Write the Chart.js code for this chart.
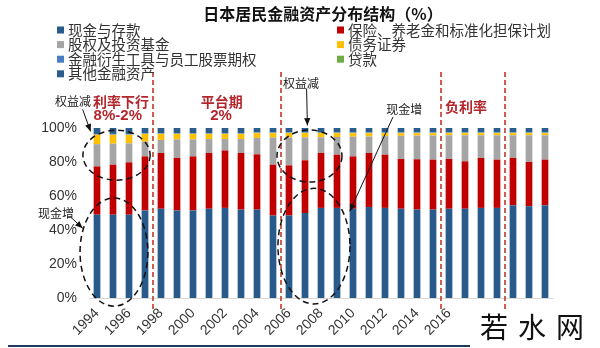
<!DOCTYPE html>
<html>
<head>
<meta charset="utf-8">
<script src="https://cdn.jsdelivr.net/npm/chart.js@4.4.1/dist/chart.umd.min.js"></script>
<style>
  html, body { margin: 0; padding: 0; background: #fff; }
  #wrap { width: 600px; height: 348px; position: relative; }
</style>
</head>
<body>
<div id="wrap"><canvas id="c"></canvas></div>
<script>
// 日本居民金融资产分布结构（%）
const years = ['1994', '1995', '1996', '1997', '1998', '1999', '2000', '2001', '2002', '2003',
  '2004', '2005', '2006', '2007', '2008', '2009', '2010', '2011', '2012', '2013',
  '2014', '2015', '2016', '2017', '2018', '2019', '2020', '2021', '2022'];
const xTickLabels = ['1994', '', '1996', '', '1998', '', '2000', '', '2002', '', '2004', '', '2006', '',
  '2008', '', '2010', '', '2012', '', '2014', '', '2016', '', '', '', '', '', ''];
const yTicks = [0, 20, 40, 60, 80, 100];

const cash = [49, 49, 49, 51.5, 52.5, 51.5, 51.5, 52.5, 53, 52, 52, 48.5, 48.5, 50, 53, 53, 52.5,
  53.5, 53, 52.5, 52, 52, 52.5, 52.5, 53, 53, 54.5, 54, 54.5];
const insurance = [28.4, 29.4, 30.8, 31.8, 32.8, 30.9, 31.8, 32.8, 33.8, 33.3, 32.5, 29.9, 29.5, 31,
  32.3, 31.3, 30.8, 31.8, 31.3, 29.3, 29.6, 29.4, 29.3, 27.9, 29.4, 28.4, 27.9, 26, 26.9];
const equity = [13.1, 12.4, 11.2, 8.7, 7.7, 10.9, 10, 8.2, 6.7, 8.2, 9.7, 16, 16.4, 13.5, 9.2, 10.4,
  11.6, 9.7, 10.9, 13.6, 13.9, 14.2, 13.9, 15.3, 13.3, 14.3, 13.3, 15.7, 14.3];
const debt = [5.5, 5.2, 5, 4.5, 3.5, 3.2, 3.2, 3, 3, 3, 2.8, 2.6, 2.6, 2.5, 2.5, 2.3, 2.1, 2, 1.8,
  1.6, 1.5, 1.4, 1.3, 1.3, 1.3, 1.3, 1.3, 1.3, 1.3];
const derivatives = [0.3, 0.3, 0.3, 0.3, 0.3, 0.3, 0.3, 0.3, 0.3, 0.3, 0.3, 0.3, 0.3, 0.3, 0.3, 0.3,
  0.3, 0.3, 0.3, 0.3, 0.3, 0.3, 0.3, 0.3, 0.3, 0.3, 0.3, 0.3, 0.3];
const loans = [0.2, 0.2, 0.2, 0.2, 0.2, 0.2, 0.2, 0.2, 0.2, 0.2, 0.2, 0.2, 0.2, 0.2, 0.2, 0.2, 0.2,
  0.2, 0.2, 0.2, 0.2, 0.2, 0.2, 0.2, 0.2, 0.2, 0.2, 0.2, 0.2];
const other = [3.5, 3.5, 3.5, 3, 3, 3, 3, 3, 3, 3, 2.5, 2.5, 2.5, 2.5, 2.5, 2.5, 2.5, 2.5, 2.5, 2.5,
  2.5, 2.5, 2.5, 2.5, 2.5, 2.5, 2.5, 2.5, 2.5];

const seriesNames = ['现金与存款', '保险、养老金和标准化担保计划', '股权及投资基金', '债务证券',
  '金融衍生工具与员工股票期权', '贷款', '其他金融资产'];
const seriesData = [cash, insurance, equity, debt, derivatives, loans, other];
const colors = ['#285a8b', '#c00000', '#a5a5a5', '#ffc000', '#4a7ec4', '#70ad47', '#2b5d8c'];

// 时期分界（位于两个年份之间）
const periodBreaks = [3.5, 11.5, 21.5, 25.5];

const CJK = "'Noto Sans CJK SC', sans-serif";
const LAT = "'Liberation Sans', Arial, sans-serif";
const RED = '#b5262c';

// 注释：位置以类别序号 i 与百分比 v 表示
const notes = [
  { t: '权益减', i: -1.5, v: 115.5, font: '12px ' + CJK, color: '#222' },
  { t: '利率下行', i: 1.5, v: 115.5, font: 'bold 14px ' + CJK, color: RED },
  { t: '8%-2%', i: 1.3, v: 107, font: 'bold 15px ' + LAT, color: RED },
  { t: '平台期', i: 7.8, v: 115.5, font: 'bold 14px ' + CJK, color: RED },
  { t: '2%', i: 7.75, v: 107, font: 'bold 15px ' + LAT, color: RED },
  { t: '权益减', i: 12.75, v: 126.5, font: '12px ' + CJK, color: '#222' },
  { t: '现金增', i: 19.2, v: 111.2, font: '12px ' + CJK, color: '#222' },
  { t: '负利率', i: 23.06, v: 112.4, font: 'bold 14px ' + CJK, color: RED },
  { t: '现金增', i: -2.56, v: 50, font: '12px ' + CJK, color: '#222' },
];
const ellipses = [
  { i: 1.22, v: 84, ri: 2.1, rv: 14.7 },
  { i: 1.06, v: 27, ri: 2.12, rv: 31.8 },
  { i: 13.28, v: 83.5, ri: 2.03, rv: 15.3 },
  { i: 13.56, v: 30.5, ri: 2.25, rv: 34 },
];
const arrows = [
  { from: [-0.9, 111], to: [-0.4, 98] },
  { from: [-1.55, 46.8], to: [-0.9, 41] },
  { from: [13.1, 123], to: [13.15, 101.5] },
  { from: [18.5, 106.5], to: [15.8, 51] },
];

function at(chart, i, v) {
  const xs = chart.scales.x, ys = chart.scales.y;
  const x0 = xs.getPixelForValue(0);
  const step = xs.getPixelForValue(1) - x0;
  return [x0 + i * step, ys.getPixelForValue(v)];
}

const decor = {
  id: 'decor',
  afterDatasetsDraw(chart) {
    const ctx = chart.ctx;
    const area = chart.chartArea;
    ctx.save();

    // 时期分界虚线
    ctx.strokeStyle = '#c0392b';
    ctx.lineWidth = 1.6;
    ctx.setLineDash([5, 3]);
    periodBreaks.forEach(b => {
      const [x] = at(chart, b, 0);
      ctx.beginPath();
      ctx.moveTo(x, 72);
      ctx.lineTo(x, area.bottom + 12);
      ctx.stroke();
    });

    // 虚线椭圆
    ctx.strokeStyle = '#111';
    ctx.lineWidth = 1.5;
    ctx.setLineDash([6, 4]);
    ellipses.forEach(e => {
      const [cx, cy] = at(chart, e.i, e.v);
      const [ex, ey] = at(chart, e.i + e.ri, e.v + e.rv);
      ctx.beginPath();
      ctx.ellipse(cx, cy, Math.abs(ex - cx), Math.abs(cy - ey), 0, 0, Math.PI * 2);
      ctx.stroke();
    });

    // 箭头
    ctx.setLineDash([]);
    ctx.lineWidth = 1;
    ctx.fillStyle = '#111';
    arrows.forEach(a => {
      const [x1, y1] = at(chart, a.from[0], a.from[1]);
      const [x2, y2] = at(chart, a.to[0], a.to[1]);
      const ang = Math.atan2(y2 - y1, x2 - x1);
      ctx.beginPath();
      ctx.moveTo(x1, y1);
      ctx.lineTo(x2, y2);
      ctx.stroke();
      ctx.beginPath();
      ctx.moveTo(x2, y2);
      ctx.lineTo(x2 - 8 * Math.cos(ang - 0.4), y2 - 8 * Math.sin(ang - 0.4));
      ctx.lineTo(x2 - 8 * Math.cos(ang + 0.4), y2 - 8 * Math.sin(ang + 0.4));
      ctx.closePath();
      ctx.fill();
    });

    // 注释文字
    ctx.textAlign = 'center';
    ctx.textBaseline = 'middle';
    notes.forEach(n => {
      const [x, y] = at(chart, n.i, n.v);
      ctx.font = n.font;
      ctx.fillStyle = n.color;
      ctx.fillText(n.t, x, y);
    });

    // 标题
    ctx.font = 'bold 16px ' + CJK;
    ctx.fillStyle = '#111';
    ctx.fillText('日本居民金融资产分布结构（%）', 323, 14);

    // 图例（两列）
    ctx.textAlign = 'left';
    ctx.font = '14.5px ' + CJK;
    seriesNames.forEach((name, k) => {
      const row = Math.floor(k / 2);
      const x = k % 2 === 0 ? 57 : 337;
      const y = 30 + row * 14.6;
      ctx.fillStyle = colors[k];
      ctx.fillRect(x, y - 3.5, 7, 7);
      ctx.fillStyle = '#333';
      ctx.fillText(name, x + 11, y);
    });

    // 底部横线
    ctx.strokeStyle = '#1f3a5f';
    ctx.lineWidth = 2;
    ctx.beginPath();
    ctx.moveTo(8, 346);
    ctx.lineTo(470, 346);
    ctx.stroke();

    // 水印
    ctx.fillStyle = '#111';
    ctx.font = '28px ' + CJK;
    ctx.textAlign = 'center';
    ['若', '水', '网'].forEach((ch, k) => ctx.fillText(ch, 494 + k * 38, 327));

    ctx.restore();
  },
};

new Chart(document.getElementById('c'), {
  type: 'bar',
  data: {
    labels: years,
    datasets: seriesNames.map((name, k) => ({
      label: name,
      data: seriesData[k],
      backgroundColor: colors[k],
      borderWidth: 0,
      barPercentage: 0.42,
      categoryPercentage: 1,
    })),
  },
  options: {
    responsive: true,
    maintainAspectRatio: false,
    animation: false,
    layout: { padding: { top: 128, right: 47, left: 0, bottom: 0 } },
    plugins: {
      legend: { display: false },
      tooltip: { enabled: false },
      title: { display: false },
    },
    scales: {
      x: {
        stacked: true,
        grid: { display: false, drawTicks: false },
        border: { display: true, color: '#d9d9d9', width: 1 },
        afterFit: (s) => { s.height = 50; },
        ticks: {
          autoSkip: false,
          maxRotation: 45,
          minRotation: 45,
          padding: 7,
          color: '#333',
          font: { family: LAT, size: 14 },
          callback: (v, i) => xTickLabels[i],
        },
      },
      y: {
        stacked: true,
        min: 0,
        max: 100,
        afterFit: (s) => { s.width = 89; },
        afterBuildTicks: (s) => { s.ticks = yTicks.map(v => ({ value: v })); },
        grid: { display: false, drawTicks: false },
        border: { display: false },
        ticks: {
          padding: 12,
          color: '#333',
          font: { family: LAT, size: 14 },
          callback: (v) => v + '%',
        },
      },
    },
  },
  plugins: [decor],
});
</script>
</body>
</html>
